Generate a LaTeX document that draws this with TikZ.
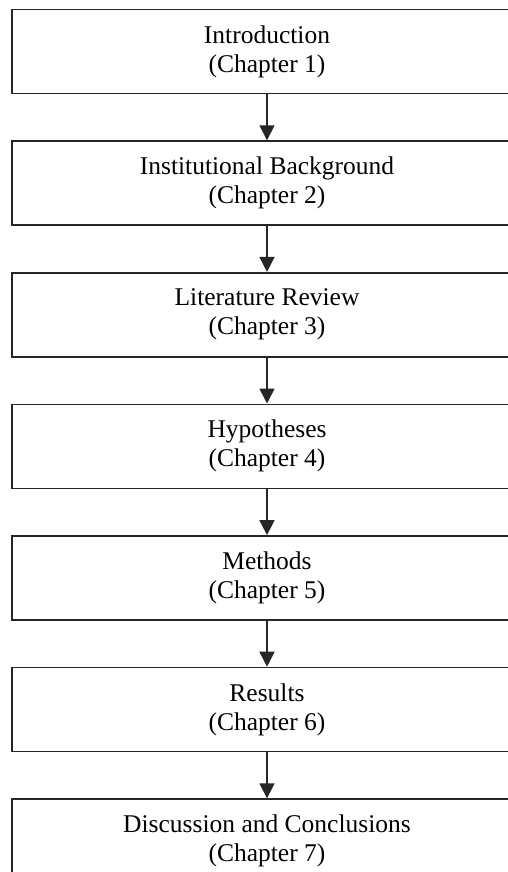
\documentclass[tikz,border=0pt]{standalone}
\usepackage{fontspec}
\setmainfont{Liberation Serif}
\usetikzlibrary{arrows.meta,positioning}

\begin{document}
\begin{tikzpicture}[
  node distance=46pt,
  box/.style={draw=black!85, line width=1.6pt, rectangle, align=center,
    minimum width=510pt, minimum height=84pt, inner sep=0pt,
    font=\fontsize{25.5}{29}\selectfont},
  arrow/.style={-{Triangle[length=15pt,width=15pt]}, line width=1.6pt, draw=black!85}
]
\clip (0,0) rectangle (508pt,-872pt);
\node[box] (intro) at (267pt,-51.5pt) {Introduction\\(Chapter 1)};
\node[box, below=of intro] (backgr) {Institutional Background\\(Chapter 2)};
\node[box, below=of backgr] (litrev) {Literature Review\\(Chapter 3)};
\node[box, below=of litrev] (hypo) {Hypotheses\\(Chapter 4)};
\node[box, below=of hypo] (methods) {Methods\\(Chapter 5)};
\node[box, below=of methods] (results) {Results\\(Chapter 6)};
\node[box, below=of results] (concl) {Discussion and Conclusions\\(Chapter 7)};
\draw[arrow] (intro) -- (backgr);
\draw[arrow] (backgr) -- (litrev);
\draw[arrow] (litrev) -- (hypo);
\draw[arrow] (hypo) -- (methods);
\draw[arrow] (methods) -- (results);
\draw[arrow] (results) -- (concl);
\end{tikzpicture}
\end{document}
